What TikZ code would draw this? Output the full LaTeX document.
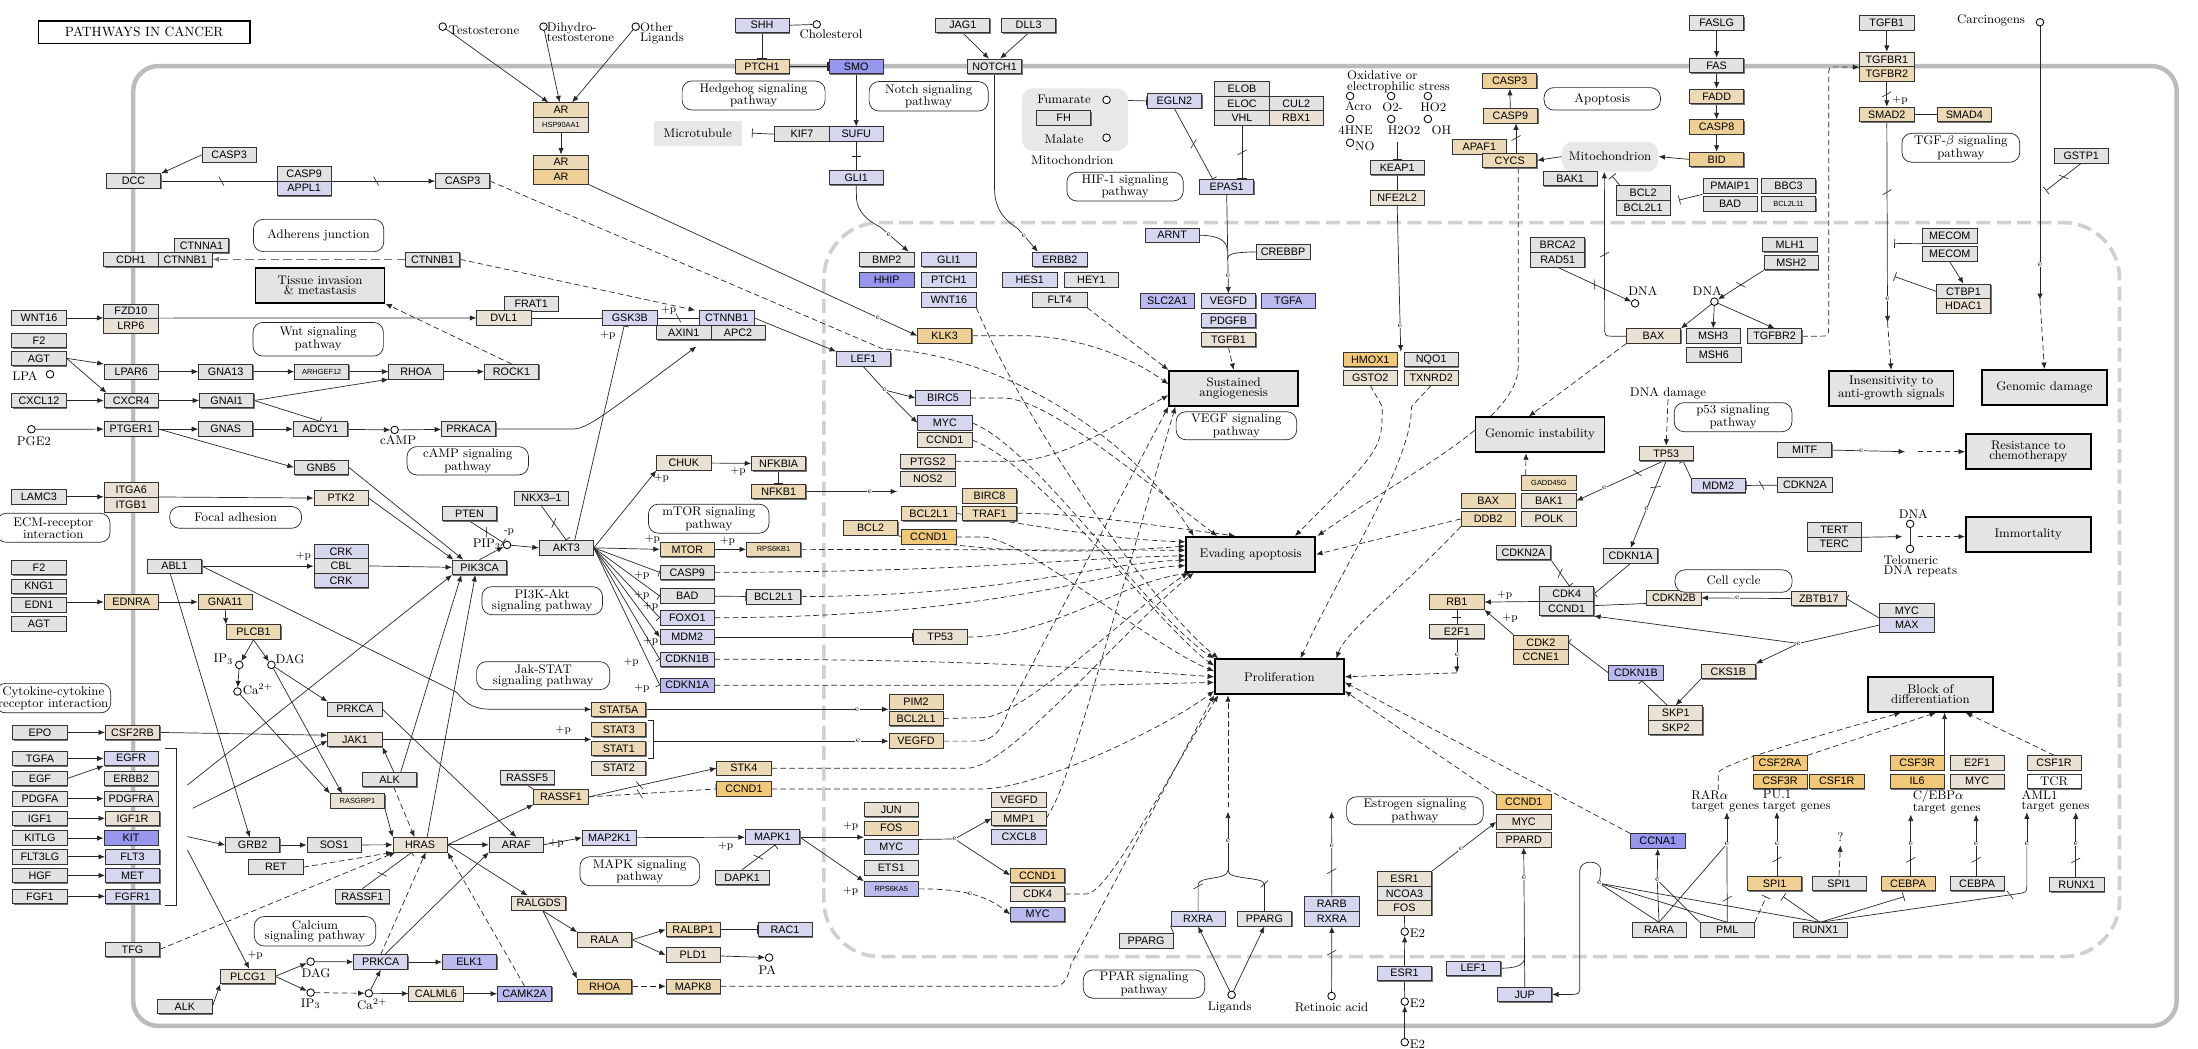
\documentclass[tikz,border=0pt]{standalone}
\usepackage{fontspec}
\newfontfamily\gf{Liberation Sans}
\usetikzlibrary{arrows.meta,calc,decorations.markings,shadows}
\pgfdeclarelayer{back}
\pgfdeclarelayer{edges}
\pgfsetlayers{back,edges,main}
\definecolor{cg}{RGB}{226,226,226}
\definecolor{cb}{RGB}{233,226,212}
\definecolor{ct}{RGB}{236,218,182}
\definecolor{cq}{RGB}{238,208,150}
\definecolor{co}{RGB}{241,200,120}
\definecolor{cl}{RGB}{214,214,238}
\definecolor{cn}{RGB}{186,186,238}
\definecolor{cm}{RGB}{150,150,236}
\definecolor{phg}{RGB}{228,228,228}
\definecolor{memb}{RGB}{188,188,188}
\definecolor{nuc}{RGB}{208,208,208}
\definecolor{reg}{RGB}{232,232,232}
\newcommand\gsz{\gf\fontsize{7.7}{8}\selectfont}
\newcommand\sgz{\fontsize{5.3}{6}\selectfont}
\newcommand\lbl{\fontsize{8.9}{7.4}\selectfont}
\newcommand\efont{\fontsize{5.6}{5.6}\selectfont}
\newcommand\ppfont{\fontsize{7.6}{7.6}\selectfont}
\newcommand\genebox[5]{\node[gene,fill=#2] (#1) at (#3,#4) {#5};}
\begin{document}
\begin{tikzpicture}[x=1pt,y=-1pt,
 gene/.style={draw=black!80,line width=0.55pt,minimum width=38.7pt,minimum height=10.4pt,inner sep=0pt,font=\gsz,drop shadow={shadow xshift=0.7pt,shadow yshift=-0.7pt,fill=black!55,opacity=1}},
 phen/.style={draw=black,line width=1.3pt,fill=phg,minimum width=92pt,minimum height=25pt,align=center,font=\lbl,inner sep=1pt},
 pw/.style={draw=black!85,line width=0.5pt,rounded corners=7pt,fill=white,align=center,font=\lbl,inner sep=1pt},
 txt/.style={font=\lbl,inner sep=0pt,align=center},
 cpd/.style={circle,draw=black,line width=0.6pt,fill=white,inner sep=0pt,minimum size=5.4pt},
 ln/.style={draw=black!85,line width=0.5pt},
 arr/.style={ln,-{Latex[length=4.6pt,width=3.8pt]}},
 inh/.style={ln,-{Bar[width=6.5pt]}},
 dsh/.style={dash pattern=on 4pt off 2.4pt},
 ee/.style={font=\efont,fill=white,inner sep=0.3pt},
 pp/.style={font=\ppfont,inner sep=0pt},
 sl/.style={postaction={decorate,decoration={markings,mark=at position #1 with {\draw[solid,-,line width=0.45pt] (-1.8,-3.2) -- (1.8,3.2);}}}},
 sl/.default=0.5]
\useasboundingbox (0,0) rectangle (1568,747.7);
\begin{pgfonlayer}{back}
\draw[memb,line width=3.2pt,rounded corners=18pt] (95,47.1) rectangle (1552.8,731.9);
\draw[nuc,line width=2.6pt,dash pattern=on 10pt off 4.5pt,rounded corners=40pt] (587.7,158.8) rectangle (1512,682.4);
\end{pgfonlayer}
% regions
\node[fill=reg,rounded corners=8pt,minimum width=75.7pt,minimum height=44.7pt] (fumreg) at (766.85,85.35) {};
\node[fill=reg,rounded corners=8pt,minimum width=68.8pt,minimum height=21.4pt,font=\lbl] (mito) at (1148.6,111.7) {Mitochondrion};
\node[fill=reg,minimum width=63pt,minimum height=18pt,font=\lbl] (micro) at (497.7,95) {Microtubule};
% title
\node[draw,line width=0.9pt,minimum width=151pt,minimum height=16pt,font=\fontsize{9.6}{10}\selectfont] (title) at (102.8,23) {PATHWAYS IN CANCER};
% genes top-left
\genebox{casp3a}{cg}{163.5}{110.5}{CASP3}
\genebox{dcc}{cg}{95.3}{129.2}{DCC}
\genebox{casp9a}{cg}{217}{123.9}{CASP9}
\genebox{appl1}{cl}{217}{134.3}{APPL1}
\genebox{casp3b}{cg}{330}{129.2}{CASP3}
\genebox{ctnna1}{cg}{143.7}{175}{CTNNA1}
\genebox{cdh1}{cg}{93.4}{185}{CDH1}
\genebox{ctnnb1a}{cg}{132.1}{185}{CTNNB1}
\genebox{ctnnb1b}{cg}{308.6}{185}{CTNNB1}
\genebox{wnt16a}{cg}{27.8}{226.8}{WNT16}
\genebox{fzd10}{cg}{93.4}{222}{FZD10}
\genebox{lrp6}{cb}{93.4}{232.4}{LRP6}
\genebox{frat1}{cg}{379}{216.6}{FRAT1}
\genebox{dvl1}{cb}{359.4}{226.8}{DVL1}
\genebox{f2a}{cg}{27.8}{242.8}{F2}
\genebox{agta}{cg}{27.8}{255.6}{AGT}
\genebox{ar1}{ct}{400.2}{78.5}{AR}
\genebox{hsp}{cb}{400.2}{88.9}{\sgz HSP90AA1}
\genebox{ar2}{ct}{400.2}{115.7}{AR}
\genebox{ar3}{cq}{400.2}{126.1}{AR}
% hedgehog notch
\genebox{shh}{cl}{543.6}{18}{SHH}
\genebox{ptch1a}{ct}{543.6}{47.3}{PTCH1}
\genebox{smo}{cm}{610.8}{47.3}{SMO}
\genebox{jag1}{cg}{686.8}{18}{JAG1}
\genebox{dll3}{cg}{733.8}{18}{DLL3}
\genebox{notch1}{cg}{709.5}{47.3}{NOTCH1}
\genebox{kif7}{cg}{572.1}{95.7}{KIF7}
\genebox{sufu}{cl}{610.8}{95.7}{SUFU}
\genebox{gli1a}{cl}{610.8}{126.6}{GLI1}
\genebox{fh}{cg}{758.8}{84.2}{FH}
% HIF
\genebox{egln2}{cl}{837.8}{72}{EGLN2}
\genebox{elob}{cg}{886}{63.4}{ELOB}
\genebox{eloc}{cg}{886}{73.8}{ELOC}
\genebox{vhl}{cg}{886}{84.2}{VHL}
\genebox{cul2}{cg}{924.7}{73.8}{CUL2}
\genebox{rbx1}{cb}{924.7}{84.2}{RBX1}
\genebox{epas1}{cl}{875.1}{133.3}{EPAS1}
\genebox{keap1}{cg}{996.7}{119.5}{KEAP1}
\genebox{nfe2l2}{cb}{996.7}{141.2}{NFE2L2}
% apoptosis
\genebox{casp3c}{cq}{1077}{57.9}{CASP3}
\genebox{casp9b}{ct}{1077.5}{82.5}{CASP9}
\genebox{apaf1}{ct}{1055.3}{104.9}{APAF1}
\genebox{cycs}{ct}{1077}{114.4}{CYCS}
\genebox{bak1a}{cg}{1120.1}{127.4}{BAK1}
\genebox{bcl2a}{cg}{1172.2}{137.7}{BCL2}
\genebox{bcl2l1a}{cg}{1172.2}{148.1}{BCL2L1}
\genebox{faslg}{cg}{1224.6}{16.4}{FASLG}
\genebox{fas}{cg}{1224.6}{46.6}{FAS}
\genebox{fadd}{ct}{1224.6}{68.7}{FADD}
\genebox{casp8}{cq}{1224.6}{90.6}{CASP8}
\genebox{bid}{cq}{1224.6}{113.7}{BID}
\genebox{pmaip1}{cg}{1234.2}{132.6}{PMAIP1}
\genebox{bbc3}{cg}{1275.9}{132.6}{BBC3}
\genebox{bada}{cg}{1234.2}{145.5}{BAD}
\genebox{bcl2l11}{cg}{1275.9}{145.5}{\sgz BCL2L11}
% TGF
\genebox{tgfb1a}{cg}{1346}{16.4}{TGFB1}
\genebox{tgfbr1}{cb}{1346}{42.5}{TGFBR1}
\genebox{tgfbr2a}{ct}{1346}{52.9}{TGFBR2}
\genebox{smad2}{ct}{1346}{81.6}{SMAD2}
\genebox{smad4}{ct}{1401.3}{81.6}{SMAD4}
\genebox{gstp1}{cg}{1484.7}{111}{GSTP1}
\genebox{mecom1}{cg}{1390.9}{168.4}{MECOM}
\genebox{mecom2}{cg}{1390.9}{181.3}{MECOM}
\genebox{ctbp1}{cg}{1400.7}{207.8}{CTBP1}
\genebox{hdac1}{cb}{1400.7}{218.2}{HDAC1}
\genebox{mlh1}{cg}{1276.9}{174.3}{MLH1}
\genebox{msh2}{cg}{1277.9}{187.3}{MSH2}
\genebox{brca2}{cg}{1111.2}{174.8}{BRCA2}
\genebox{rad51}{cg}{1111.2}{185.2}{RAD51}
\genebox{baxa}{cb}{1179.5}{239.8}{BAX}
\genebox{msh3}{cg}{1222.1}{239.8}{MSH3}
\genebox{tgfbr2b}{cg}{1266}{239.8}{TGFBR2}
\genebox{msh6}{cg}{1222.6}{253.2}{MSH6}
% nucleus top
\genebox{bmp2}{cg}{632.6}{185}{BMP2}
\genebox{gli1b}{cl}{676.9}{185}{GLI1}
\genebox{hhip}{cm}{632.6}{199.7}{HHIP}
\genebox{ptch1b}{cl}{676.9}{199.7}{PTCH1}
\genebox{wnt16b}{cl}{676.9}{214.1}{WNT16}
\genebox{erbb2a}{cl}{756}{185}{ERBB2}
\genebox{hes1}{cl}{734.6}{199.7}{HES1}
\genebox{hey1}{cg}{778.5}{199.7}{HEY1}
\genebox{flt4}{cg}{756}{214.1}{FLT4}
\genebox{gsk3b}{cl}{449.3}{226.8}{GSK3B}
\genebox{ctnnb1c}{cl}{518.5}{226.8}{CTNNB1}
\genebox{axin1}{cg}{487.8}{237.2}{AXIN1}
\genebox{apc2}{cg}{526.5}{237.2}{APC2}
\genebox{klk3}{cq}{673.9}{239.5}{KLK3}
\genebox{arnt}{cl}{836.2}{167.8}{ARNT}
\genebox{crebbp}{cg}{915.3}{179.7}{CREBBP}
\genebox{slc2a1}{cn}{832.7}{214.8}{SLC2A1}
\genebox{vegfda}{cl}{876.3}{214.8}{VEGFD}
\genebox{tgfaA}{cn}{919}{214.8}{TGFA}
\genebox{pdgfb}{cl}{876.3}{228.5}{PDGFB}
\genebox{tgfb1b}{cb}{876.3}{242.2}{TGFB1}
% left middle
\genebox{lpar6}{cg}{93.6}{265.1}{LPAR6}
\genebox{gna13}{cg}{161}{265.1}{GNA13}
\genebox{arhgef12}{cg}{229.5}{265.1}{\sgz ARHGEF12}
\genebox{rhoa1}{cg}{296.7}{265.1}{RHOA}
\genebox{rock1}{cg}{364.9}{265.1}{ROCK1}
\genebox{cxcl12}{cg}{27.8}{285.7}{CXCL12}
\genebox{cxcr4}{cg}{93.6}{285.7}{CXCR4}
\genebox{gnai1}{cg}{161.7}{285.7}{GNAI1}
\genebox{ptger1}{cg}{93.6}{306.1}{PTGER1}
\genebox{gnas}{cg}{161}{306.1}{GNAS}
\genebox{adcy1}{cg}{228.6}{306.1}{ADCY1}
\genebox{prkaca}{cg}{334.3}{306.1}{PRKACA}
\genebox{gnb5}{cg}{229.2}{333.4}{GNB5}
\genebox{lamc3}{cg}{27.8}{354.4}{LAMC3}
\genebox{itga6}{cb}{93.6}{349.6}{ITGA6}
\genebox{itgb1}{cb}{93.6}{360}{ITGB1}
\genebox{ptk2}{cb}{243.3}{355.3}{PTK2}
\genebox{nkx31}{cg}{386.2}{355.4}{NKX3–1}
\genebox{pten}{cg}{334.9}{366.3}{PTEN}
\genebox{akt3}{cg}{404}{390.8}{AKT3}
\genebox{pik3ca}{cg}{342.1}{404.7}{PIK3CA}
\genebox{abl1}{cg}{124.5}{403.9}{ABL1}
\genebox{crk1}{cl}{243.3}{393.3}{CRK}
\genebox{cbl}{cg}{243.3}{403.7}{CBL}
\genebox{crk2}{cl}{243.3}{414.1}{CRK}
\genebox{f2b}{cg}{27.8}{404.9}{F2}
\genebox{kng1}{cg}{27.8}{418.2}{KNG1}
\genebox{edn1}{cg}{27.8}{431.6}{EDN1}
\genebox{agtb}{cg}{27.8}{445.1}{AGT}
\genebox{ednra}{ct}{93.6}{429.4}{EDNRA}
\genebox{gna11}{ct}{160.7}{429.4}{GNA11}
\genebox{plcb1}{ct}{180.8}{450.9}{PLCB1}
% lower left
\genebox{epo}{cg}{28.5}{522.5}{EPO}
\genebox{csf2rb}{cb}{94.5}{522.5}{CSF2RB}
\genebox{tgfaB}{cg}{28.5}{541.1}{TGFA}
\genebox{egf}{cg}{28.5}{555.3}{EGF}
\genebox{egfr}{cl}{93.5}{540.9}{EGFR}
\genebox{erbb2b}{cg}{93.5}{555.3}{ERBB2}
\genebox{pdgfa}{cg}{28.5}{569.7}{PDGFA}
\genebox{pdgfra}{cg}{93.5}{569.7}{PDGFRA}
\genebox{igf1}{cg}{28.5}{583.8}{IGF1}
\genebox{igf1r}{cb}{94.5}{583.8}{IGF1R}
\genebox{kitlg}{cg}{28.5}{597.9}{KITLG}
\genebox{kit}{cm}{93.5}{597.9}{KIT}
\genebox{flt3lg}{cg}{28.5}{611.2}{FLT3LG}
\genebox{flt3}{cl}{94.5}{611.2}{FLT3}
\genebox{hgf}{cg}{28.5}{624.5}{HGF}
\genebox{met}{cl}{94.5}{624.5}{MET}
\genebox{fgf1}{cg}{28.5}{639.4}{FGF1}
\genebox{fgfr1}{cl}{94.5}{639.4}{FGFR1}
\genebox{tfg}{cg}{94.5}{677.2}{TFG}
\genebox{prkca1}{cg}{253.2}{505.9}{PRKCA}
\genebox{jak1}{cb}{253.2}{527.5}{JAK1}
\genebox{alk1}{cg}{277.9}{556.1}{ALK}
\genebox{rasgrp1}{cb}{255}{571.5}{\sgz RASGRP1}
\genebox{rassf5}{cg}{376}{554.6}{RASSF5}
\genebox{rassf1a}{ct}{400.2}{568.5}{RASSF1}
\genebox{grb2}{cg}{180.2}{602.8}{GRB2}
\genebox{sos1}{cg}{238.4}{602.8}{SOS1}
\genebox{hras}{cb}{299.7}{602.6}{HRAS}
\genebox{araf}{cg}{368.3}{602.6}{ARAF}
\genebox{ret}{cg}{196.8}{618.6}{RET}
\genebox{rassf1b}{cg}{258.5}{639.4}{RASSF1}
\genebox{ralgds}{cb}{384.3}{644.3}{RALGDS}
\genebox{plcg1}{cb}{176.8}{696.5}{PLCG1}
\genebox{prkca2}{cl}{271.6}{686.3}{PRKCA}
\genebox{elk1}{cn}{334.9}{686.3}{ELK1}
\genebox{calml6}{cb}{311}{708.9}{CALML6}
\genebox{camk2a}{cn}{374.2}{708.9}{CAMK2A}
\genebox{alk2}{cg}{131.9}{717.9}{ALK}
% middle
\genebox{stat5a}{ct}{441.4}{506}{STAT5A}
\genebox{stat3}{ct}{441.4}{520.4}{STAT3}
\genebox{stat1}{ct}{441.4}{533.9}{STAT1}
\genebox{stat2}{cb}{441.4}{548}{STAT2}
\genebox{pim2}{ct}{653.5}{500.5}{PIM2}
\genebox{bcl2l1c}{ct}{653.5}{512.5}{BCL2L1}
\genebox{vegfdb}{ct}{653.5}{528.7}{VEGFD}
\genebox{stk4}{ct}{530.7}{548}{STK4}
\genebox{ccnd1a}{co}{530.7}{562.8}{CCND1}
\genebox{jun}{cb}{635.8}{577.4}{JUN}
\genebox{fos}{ct}{635.8}{590.8}{FOS}
\genebox{myca}{cl}{635.8}{604.3}{MYC}
\genebox{ets1}{cg}{635.8}{619.2}{ETS1}
\genebox{rps6ka5}{cn}{635.8}{634.1}{\sgz RPS6KA5}
\genebox{vegfdc}{cb}{726.9}{570.5}{VEGFD}
\genebox{mmp1}{cb}{726.9}{583.8}{MMP1}
\genebox{cxcl8}{cl}{726.9}{596.9}{CXCL8}
\genebox{ccnd1b}{cq}{740.2}{624.4}{CCND1}
\genebox{cdk4a}{cb}{740.2}{637.7}{CDK4}
\genebox{mycb}{cn}{740.2}{652.2}{MYC}
\genebox{map2k1}{cl}{434.7}{597.6}{MAP2K1}
\genebox{mapk1}{cl}{551}{597.2}{MAPK1}
\genebox{dapk1}{cg}{529.4}{625.9}{DAPK1}
\genebox{rala}{cb}{431.3}{670.4}{RALA}
\genebox{ralbp1}{ct}{494.5}{663.1}{RALBP1}
\genebox{rac1}{cl}{560}{663.1}{RAC1}
\genebox{pld1}{cb}{494.5}{681.3}{PLD1}
\genebox{rhoa2}{cq}{431.3}{703.6}{RHOA}
\genebox{mapk8}{ct}{494.5}{703.6}{MAPK8}
% akt targets
\genebox{chuk}{cb}{487.8}{330.2}{CHUK}
\genebox{nfkbia}{cb}{555.5}{330.7}{NFKBIA}
\genebox{nfkb1}{ct}{555.5}{350.6}{NFKB1}
\genebox{mtor}{ct}{490.3}{391.9}{MTOR}
\genebox{rps6kb1}{ct}{551.8}{391.9}{\sgz RPS6KB1}
\genebox{casp9c}{cg}{490.3}{408.3}{CASP9}
\genebox{badb}{cg}{490.3}{425.2}{BAD}
\genebox{bcl2l1b}{cg}{551.8}{425.6}{BCL2L1}
\genebox{foxo1}{cl}{490.3}{440.7}{FOXO1}
\genebox{mdm2a}{cl}{490.3}{454.5}{MDM2}
\genebox{tp53a}{cb}{670.8}{454.5}{TP53}
\genebox{cdkn1bA}{cl}{490.3}{470.3}{CDKN1B}
\genebox{cdkn1aA}{cn}{490.3}{488.8}{CDKN1A}
% nucleus middle
\genebox{lef1a}{cl}{616}{256.2}{LEF1}
\genebox{birc5}{cl}{672.7}{283.9}{BIRC5}
\genebox{mycc}{cl}{674}{301.7}{MYC}
\genebox{ccnd1c}{cb}{674}{314}{CCND1}
\genebox{ptgs2}{cb}{661.9}{329.1}{PTGS2}
\genebox{nos2}{cb}{661.9}{341.6}{NOS2}
\genebox{birc8}{ct}{705.9}{353.8}{BIRC8}
\genebox{bcl2l1d}{ct}{662.6}{366.2}{BCL2L1}
\genebox{traf1}{ct}{705.9}{366.2}{TRAF1}
\genebox{bcl2b}{ct}{621}{376.7}{BCL2}
\genebox{ccnd1d}{co}{662.6}{383.1}{CCND1}
% right middle
\genebox{hmox1}{co}{977.5}{256.3}{HMOX1}
\genebox{nqo1}{cg}{1021}{256.3}{NQO1}
\genebox{gsto2}{cb}{977.5}{269.4}{GSTO2}
\genebox{txnrd2}{cb}{1021}{269.4}{TXNRD2}
\genebox{gadd45g}{ct}{1105}{344.3}{\sgz GADD45G}
\genebox{baxb}{ct}{1061.7}{357.2}{BAX}
\genebox{bak1b}{cb}{1105}{357.2}{BAK1}
\genebox{ddb2}{ct}{1061.7}{370.2}{DDB2}
\genebox{polk}{cb}{1105}{370.2}{POLK}
\genebox{cdkn2aA}{cg}{1086.8}{394}{CDKN2A}
\genebox{cdkn1aB}{cg}{1163.2}{396.4}{CDKN1A}
\genebox{cdk4b}{cg}{1117.6}{423.6}{CDK4}
\genebox{ccnd1e}{cg}{1117.6}{434}{CCND1}
\genebox{rb1}{ct}{1039.3}{429.5}{RB1}
\genebox{e2f1a}{cb}{1039.3}{450.5}{E2F1}
\genebox{cdk2}{ct}{1099.2}{458.2}{CDK2}
\genebox{ccne1}{ct}{1099.2}{468.6}{CCNE1}
\genebox{cdkn1bB}{cn}{1167}{480}{CDKN1B}
\genebox{tp53b}{cb}{1188.6}{323.4}{TP53}
\genebox{mitf}{cg}{1287.4}{321.1}{MITF}
\genebox{mdm2b}{cl}{1225.8}{346.3}{MDM2}
\genebox{cdkn2aB}{cg}{1287.6}{346.1}{CDKN2A}
\genebox{tert}{cg}{1308.5}{377.8}{TERT}
\genebox{terc}{cg}{1308.5}{388.2}{TERC}
\genebox{cdkn2b}{cb}{1194.1}{426.5}{CDKN2B}
\genebox{zbtb17}{cb}{1297.5}{427}{ZBTB17}
\genebox{mycd}{cg}{1360.3}{435.5}{MYC}
\genebox{max}{cl}{1360.3}{445.9}{MAX}
\genebox{cks1b}{cb}{1233}{478.9}{CKS1B}
\genebox{skp1}{cb}{1195.4}{508.6}{SKP1}
\genebox{skp2}{cb}{1195.4}{519}{SKP2}
% bottom right
\genebox{pparga}{cg}{817.6}{671.3}{PPARG}
\genebox{rxra1}{cl}{854.7}{655.4}{RXRA}
\genebox{ppargb}{cg}{902}{655.4}{PPARG}
\genebox{rarb}{cl}{950.1}{645}{RARB}
\genebox{rxra2}{cl}{950.1}{655.4}{RXRA}
\genebox{esr1a}{cb}{1001.9}{626.9}{ESR1}
\genebox{ncoa3}{cg}{1001.9}{637.3}{NCOA3}
\genebox{fosb}{cb}{1001.9}{647.7}{FOS}
\genebox{esr1b}{cl}{1001.9}{694.3}{ESR1}
\genebox{ccnd1f}{co}{1087}{572.2}{CCND1}
\genebox{mycf}{cb}{1087}{586.3}{MYC}
\genebox{ppard}{cb}{1087}{599.1}{PPARD}
\genebox{lef1b}{cl}{1051.1}{690.7}{LEF1}
\genebox{jup}{cl}{1087.7}{709.4}{JUP}
\genebox{ccna1}{cm}{1182.6}{600}{CCNA1}
\genebox{csf2ra}{co}{1269.8}{544.3}{CSF2RA}
\genebox{csf3ra}{co}{1269.8}{557.3}{CSF3R}
\genebox{csf1ra}{co}{1310.3}{557.3}{CSF1R}
\genebox{csf3rb}{co}{1367.6}{544.3}{CSF3R}
\genebox{e2f1b}{cb}{1410.4}{544.3}{E2F1}
\genebox{il6}{co}{1367.6}{557.3}{IL6}
\genebox{myce}{cb}{1410.4}{557.3}{MYC}
\genebox{csf1rb}{cb}{1465.3}{544.3}{CSF1R}
\node[gene,fill=white,font=\lbl] (tcr) at (1465.3,557.3) {TCR};
\genebox{spi1a}{cq}{1266}{630.2}{SPI1}
\genebox{spi1b}{cg}{1311.9}{630.2}{SPI1}
\genebox{cebpa1}{cq}{1361.2}{630.2}{CEBPA}
\genebox{cebpa2}{cg}{1410.4}{630.2}{CEBPA}
\genebox{runx1b}{cg}{1481.5}{631}{RUNX1}
\genebox{rara}{cg}{1183.5}{663.4}{RARA}
\genebox{pml}{cg}{1232.2}{663.4}{PML}
\genebox{runx1a}{cg}{1298.4}{663.4}{RUNX1}
% phenotypes
\node[phen] (tissue) at (228.3,203.5) {Tissue invasion\\\& metastasis};
\node[phen] (angio) at (880.1,277) {Sustained\\angiogenesis};
\node[phen] (evade) at (892.2,395.5) {Evading apoptosis};
\node[phen] (prolif) at (912.7,482.8) {Proliferation};
\node[phen] (geninst) at (1098.6,310.2) {Genomic instability};
\node[phen,minimum width=89pt] (insens) at (1349.1,277) {Insensitivity to\\anti-growth signals};
\node[phen,minimum width=89pt] (gendam) at (1458.4,276.4) {Genomic damage};
\node[phen,minimum width=89pt] (resist) at (1446.9,322.3) {Resistance to\\chemotherapy};
\node[phen,minimum width=89pt] (immort) at (1446.9,381.1) {Immortality};
\node[phen,minimum width=89pt] (block) at (1377.1,495.2) {Block of\\differentiation};
% pathway labels
\node[pw,minimum width=93pt,minimum height=23pt] (pAdh) at (227.3,168) {Adherens junction};
\node[pw,minimum width=93pt,minimum height=24pt] (pWnt) at (227,242) {Wnt signaling\\pathway};
\node[pw,minimum width=102pt,minimum height=20.7pt] (pHh) at (537.6,68.1) {Hedgehog signaling\\pathway};
\node[pw,minimum width=85pt,minimum height=21pt] (pNotch) at (662.5,68.7) {Notch signaling\\pathway};
\node[pw,minimum width=83pt,minimum height=20.5pt] (pHif) at (802.6,133.1) {HIF-1 signaling\\pathway};
\node[pw,minimum width=83pt,minimum height=16pt] (pApo) at (1143,70.5) {Apoptosis};
\node[pw,minimum width=84pt,minimum height=20.7pt] (pTgf) at (1398.8,105.4) {TGF-$\beta$ signaling\\pathway};
\node[pw,minimum width=86.6pt,minimum height=20.2pt] (pCamp) at (333.7,328.7) {cAMP signaling\\pathway};
\node[pw,minimum width=94pt,minimum height=15.5pt] (pFoc) at (168.1,369.1) {Focal adhesion};
\node[pw,minimum width=81pt,minimum height=20.7pt] (pEcm) at (38,376.5) {ECM-receptor\\interaction};
\node[pw,minimum width=86pt,minimum height=20pt] (pPi3k) at (386.8,428.5) {PI3K-Akt\\signaling pathway};
\node[pw,minimum width=95pt,minimum height=20pt] (pJak) at (387.5,482) {Jak-STAT\\signaling pathway};
\node[pw,minimum width=82pt,minimum height=21pt] (pCyt) at (38,498) {Cytokine-cytokine\\receptor interaction};
\node[pw,minimum width=86pt,minimum height=20.7pt] (pMtor) at (505.6,370) {mTOR signaling\\pathway};
\node[pw,minimum width=86pt,minimum height=20pt] (pVegf) at (882,303.7) {VEGF signaling\\pathway};
\node[pw,minimum width=84pt,minimum height=20.7pt] (pP53) at (1236.3,297.6) {p53 signaling\\pathway};
\node[pw,minimum width=83.5pt,minimum height=16pt] (pCc) at (1236.7,414.5) {Cell cycle};
\node[pw,minimum width=85.4pt,minimum height=20.7pt] (pMapk) at (456.4,621.5) {MAPK signaling\\pathway};
\node[pw,minimum width=86.6pt,minimum height=21pt] (pCa) at (224.7,664.3) {Calcium\\signaling pathway};
\node[pw,minimum width=86.6pt,minimum height=20.2pt] (pPpar) at (816.1,702) {PPAR signaling\\pathway};
\node[pw,minimum width=97.5pt,minimum height=20pt] (pEst) at (1009.4,578.4) {Estrogen signaling\\pathway};
% compounds and texts
\node[cpd] (cTes) at (315.8,19) {};
\node[txt,anchor=west] at (320,21.5) {Testosterone};
\node[cpd] (cDih) at (387.7,19) {};
\node[txt,anchor=north west,align=left] at (390,15.8) {Dihydro-\\testosterone};
\node[cpd] (cOth) at (453.5,19) {};
\node[txt,anchor=north west,align=left] at (456.5,15.8) {Other\\Ligands};
\node[cpd] (cChol) at (582.6,17.4) {};
\node[txt] at (592.8,24.5) {Cholesterol};
\node[txt] at (759.1,70.9) {Fumarate};
\node[txt] at (759.1,99.4) {Malate};
\node[cpd] (cFum) at (789.4,71.3) {};
\node[cpd] (cMal) at (789.4,98.2) {};
\node[txt] at (765,114.3) {Mitochondrion};
\node[txt,anchor=west,align=left] at (960.8,58.3) {Oxidative or\\electrophilic stress};
\node[cpd] (ox1) at (963.1,68.5) {};
\node[cpd] (ox2) at (992.4,68.5) {};
\node[cpd] (ox3) at (1018.6,68.5) {};
\node[txt] at (969,76) {Acro};
\node[txt] at (993.5,76.6) {O2-};
\node[txt] at (1022.5,76.6) {HO2};
\node[cpd] (ox4) at (963.1,84.9) {};
\node[cpd] (ox5) at (992.4,84.9) {};
\node[cpd] (ox6) at (1018.6,84.9) {};
\node[txt] at (967,92.7) {4HNE};
\node[txt] at (1001.6,92.7) {H2O2};
\node[txt] at (1028.3,92.7) {OH};
\node[cpd] (ox7) at (963.1,101.8) {};
\node[txt,anchor=west] at (966.5,104) {NO};
\coordinate (oxs) at (996.7,101.5);
\node[txt] at (1420.4,14.7) {Carcinogens};
\node[cpd] (cCarc) at (1455.3,15.9) {};
\node[cpd] (cDNA1) at (1166.4,216.4) {};
\node[txt] at (1172,207.3) {DNA};
\node[cpd] (cDNA2) at (1223,215.2) {};
\node[txt] at (1217.9,207.3) {DNA};
\node[txt] (dnadmg) at (1189.9,280.5) {DNA damage};
\node[cpd] (cT1) at (1362.6,373.7) {};
\node[cpd] (cT2) at (1362.6,391.6) {};
\node[txt] at (1364.9,366.4) {DNA};
\node[txt,anchor=north west,align=left] at (1343.5,396.2) {Telomeric\\DNA repeats};
\node[txt] at (17.8,268.2) {LPA};
\node[cpd] (cLPA) at (35.7,267) {};
\node[cpd] (cPGE2) at (22.4,306.2) {};
\node[txt] at (24.2,315) {PGE2};
\node[cpd] (cAMP) at (281.5,306.7) {};
\node[txt] at (284,314) {cAMP};
\node[cpd] (cPIP3) at (361.7,388.7) {};
\node[txt,anchor=east] at (357.5,388.2) {PIP\textsubscript{3}};
\node[pp] at (363,379.5) {-p};
\node[cpd] (cIP3) at (170.7,474.3) {};
\node[txt,anchor=east] at (166.5,470.5) {IP\textsubscript{3}};
\node[cpd] (cDAG) at (193.6,474.3) {};
\node[txt,anchor=west] at (196.5,470) {DAG};
\node[cpd] (cCa1) at (169.4,493.3) {};
\node[txt,anchor=west] at (173,491.5) {Ca\textsuperscript{2+}};
\node[cpd] (cDAG2) at (221.6,686) {};
\node[txt] at (225.4,694.5) {DAG};
\node[cpd] (cIP3b) at (221.6,708.1) {};
\node[txt] at (221.6,716) {IP\textsubscript{3}};
\node[cpd] (cCa2) at (263.1,708.6) {};
\node[txt] at (265.5,716.5) {Ca\textsuperscript{2+}};
\node[cpd] (cPA) at (548.7,683.1) {};
\node[txt] at (547.4,692) {PA};
\node[cpd] (cLig) at (878.6,709.7) {};
\node[txt] at (877.3,718.5) {Ligands};
\node[cpd] (cRet) at (949.9,710.5) {};
\node[txt] at (949.9,718.5) {Retinoic acid};
\node[cpd] (cE2a) at (1002.1,664.6) {};
\node[txt,anchor=west] at (1005.5,665.8) {E2};
\node[cpd] (cE2b) at (1002.1,714.5) {};
\node[txt,anchor=west] at (1005.5,715.7) {E2};
\node[cpd] (cE2c) at (1002.1,743.5) {};
\node[txt,anchor=west] at (1005.5,744.7) {E2};
\node[txt,anchor=north west,align=left] (rart) at (1206.4,563.5) {RAR$\alpha$\\target genes};
\node[txt,anchor=north west,align=left] (put) at (1257.4,563.5) {PU.1\\target genes};
\node[txt,anchor=north west,align=left] (cebt) at (1364.4,563.5) {C/EBP$\alpha$\\target genes};
\node[txt,anchor=north west,align=left] (amlt) at (1442,563.5) {AML1\\target genes};
\node[txt] at (1312.9,597) {?};
% +p labels
\foreach \x/\y in {477/221.6,433.6/239,216.5/396.6,471.8/341.2,465.4/384.7,457.8/410.1,457.8/424.4,464.2/432.7,464.2/457.7,450.2/472.6,457.8/491,526.6/336.4,518.9/386.3,401.8/521.2,396.7/601.6,517.7/604,606.8/589.7,606.8/636,182/681.2,1355.4/71.3,1073.4/424.4,1077.2/441}
 \node[pp] at (\x,\y) {+p};
% edges
\begin{pgfonlayer}{edges}
\draw[arr] (cTes) -- ($(ar1.north)+(-9,0)$);
\draw[arr] (cDih) -- ($(ar1.north)+(-1,0)$);
\draw[arr] (cOth) -- ($(ar1.north)+(8,0)$);
\draw[arr] (hsp) -- (ar2);
\draw[arr] (ar3.south east) -- node[ee,pos=0.88]{e} (klk3.west);
\draw[arr] (casp3a.west) -- (dcc.north east);
\draw[arr,sl=0.22,sl=0.785] (dcc.east) -- (casp3b.west);
\draw[arr,dsh] (casp3b.east) -- (630,249) .. controls (700,251) and (800,300) .. ($(evade.north west)+(6,0)$);
\draw[arr,draw=black!55,line width=0.9pt,dash pattern=on 6pt off 3pt] (ctnnb1b.west) -- (ctnnb1a.east);
\draw[arr,dsh] (ctnnb1b.east) -- ($(ctnnb1c.north west)+(-3,0)$);
\draw[arr] (wnt16a.east) -- (wnt16a.east -| fzd10.west);
\draw[arr] (lrp6.north east) -- (dvl1.west);
\draw[inh] (dvl1.east) -- (gsk3b.west);
\draw[inh,sl] (gsk3b.east) -- (ctnnb1c.west);
\draw[inh] ($(akt3.north)+(6,0)$) -- ($(gsk3b.south)+(-4,0)$);
\draw[arr,dsh] (rock1.north) -- (tissue.south east);
\draw[arr] (prkaca.east) -- (405,306.1) .. controls (418,306.1) .. ($(axin1.south)+(9,4.5)$);
\draw[arr] (agta.east) -- (lpar6.north west);
\draw[arr] (agta.east) -- ($(cxcr4.north west)+(2,0)$);
\draw[arr] (lpar6) -- (gna13);
\draw[arr] (gna13) -- (arhgef12);
\draw[arr] (arhgef12) -- (rhoa1);
\draw[arr] (rhoa1) -- (rock1);
\draw[arr] (cxcl12) -- (cxcr4);
\draw[arr] (cxcr4) -- (gnai1);
\draw[arr] (gnai1.east) -- (rhoa1.south west);
\draw[inh] (gnai1.east) -- (adcy1.north);
\draw[arr] (cPGE2) -- (ptger1);
\draw[arr] (ptger1) -- (gnas);
\draw[arr] (gnas) -- (adcy1);
\draw[arr] (adcy1) -- (cAMP);
\draw[arr] (cAMP) -- (prkaca);
\draw[arr] (ptger1.east) -- (gnb5.west);
\draw[arr] (gnb5.east) -- ($(pik3ca.north west)+(8,0)$);
\draw[arr] (lamc3.east) -- (lamc3.east -| itga6.west);
\draw[arr] (itgb1.north east) -- (ptk2.west);
\draw[arr] (ptk2.east) -- ($(pik3ca.north west)+(1,0)$);
\draw[inh,sl] (pten.south) -- (cPIP3);
\draw[arr] (pik3ca.north) -- (cPIP3);
\draw[arr] (cPIP3) -- (akt3.west);
\draw[inh,sl] (nkx31.south) -- (akt3.north);
\draw[arr] (abl1.east) -- (abl1.east -| cbl.west);
\draw[arr] (cbl.east) -- (pik3ca.west);
\draw[arr] (abl1.east) -- (326,494) .. controls (334,504) and (340,506) .. (352,506) -- (stat5a.west);
\draw[arr] ($(abl1.south)+(-3,0)$) -- ($(grb2.north)+(-2,0)$);
\draw[arr] (edn1.east |- ednra) -- (ednra.west);
\draw[arr] (ednra) -- (gna11);
\draw[arr] (gna11.south) -- (plcb1.north west);
\draw[arr] (plcb1.south) -- (cIP3);
\draw[arr] (plcb1.south) -- (cDAG);
\draw[arr] (cIP3) -- (cCa1);
\draw[arr] (cDAG) -- (prkca1.north west);
\draw[arr] (cDAG) -- ($(rasgrp1.north)+(-11,0)$);
\draw[arr] (cCa1) -- (rasgrp1.north west);
\draw[arr] (prkca1.east) -- (araf.north);
\draw[arr] (epo) -- (csf2rb);
\draw[arr] (csf2rb.east) -- ($(jak1.west)+(0,-3)$);
\draw[arr] (tgfaB) -- (tgfaB -| egfr.west);
\draw[arr] (egf.east) -- (egfr.south west);
\draw[arr] (pdgfa) -- (pdgfra);
\draw[arr] (igf1) -- (igf1r);
\draw[arr] (kitlg) -- (kit);
\draw[arr] (flt3lg) -- (flt3);
\draw[arr] (hgf) -- (met);
\draw[arr] (fgf1) -- (fgfr1);
\coordinate (brkT) at (118,533.8);
\coordinate (brkB) at (118,645.5);
\draw[ln] (brkT) -- (126,533.8) -- (126,645.5) -- (brkB);
\coordinate (b1) at (133.7,560);
\coordinate (b2) at (137.5,576.6);
\coordinate (b3) at (133.7,596.8);
\coordinate (b4) at (133.7,606.3);
\draw[arr] (b1) -- (pik3ca.south west);
\draw[arr] (b2) -- ($(jak1.west)+(0,1)$);
\draw[arr] (b3) -- (grb2.west);
\draw[arr] (b4) -- ($(plcg1.north)+(1,0)$);
\draw[arr] (grb2) -- (sos1);
\draw[arr] (sos1) -- (hras);
\draw[arr,dsh] (ret.east) -- (hras.south west);
\draw[arr,dsh] (tfg.east) -- ($(hras.south west)+(2,0)$);
\draw[inh,sl=0.4] (rassf1b.north) -- ($(hras.south)+(-6,0)$);
\draw[arr] (rasgrp1.south east) -- (hras.north west);
\draw[arr] ($(alk1.north)+(3,0)$) -- (jak1.south east);
\draw[arr] ($(alk1.north)+(8,0)$) -- ($(pik3ca.south)+(-13,0)$);
\draw[arr,dsh] ($(alk1.south)+(3,0)$) -- ($(hras.north)+(-4,0)$);
\draw[arr] ($(hras.north)+(5,0)$) -- ($(pik3ca.south)+(-3,0)$);
\draw[arr] (hras.east) -- (araf.west);
\draw[arr] (hras.east) -- (rassf1a.south west);
\draw[arr] (hras.east) -- ($(ralgds.north)+(-8,0)$);
\draw[ln] (rassf5.south) -- (rassf1a.north west);
\draw[arr] (araf.east) -- (map2k1.west);
\draw[arr] (map2k1) -- (mapk1);
\draw[arr] (mapk1.east) -- (mapk1.east -| fos.west);
\draw[arr] (mapk1.east) -- (rps6ka5.north west);
\draw[inh,sl] (dapk1.north) -- ($(mapk1.south)+(2,0)$);
\coordinate (ejun) at (681,598.5);
\draw[ln] (myca.north east) -- (ejun);
\draw[arr] (ejun) -- (mmp1.west);
\draw[arr] (ejun) -- (ccnd1b.west);
\node[ee] at (ejun) {e};
\draw[arr,dsh] (rps6ka5.east) .. controls (690,634) and (705,640) .. node[ee,pos=0.45]{e} (mycb.west);
\draw[arr] (jak1.east) -- (jak1.east -| stat3.west);
\draw[arr] (stat5a.east) -- node[ee,pos=0.87]{e} (stat5a.east -| pim2.west);
\coordinate (sbT) at (462,513.6);
\coordinate (sbB) at (462,541);
\draw[ln] (sbT) -- (466.2,513.6) -- (466.2,541) -- (sbB);
\coordinate (stbr) at (466.2,528.7);
\draw[arr] (stbr) -- node[ee,pos=0.87]{e} (vegfdb.west);
\draw[arr,sl=0.4] (rassf1a.east) -- (stk4.west);
\draw[inh,dsh,sl=0.4] (rassf1a.east) -- (ccnd1a.west);
\draw[arr] ($(ralgds.south)+(3,0)$) -- (rala.north west);
\draw[arr] ($(ralgds.south)+(3,0)$) -- (rhoa2.north west);
\draw[arr] (rala.east) -- (ralbp1.west);
\draw[arr] (rala.east) -- (pld1.west);
\draw[inh] (ralbp1) -- (rac1);
\draw[arr] (pld1) -- (cPA);
\draw[arr,dsh] (rhoa2) -- (mapk8);
\draw[arr,dsh] (mapk8.east) -- (752,703.6) .. controls (760,703.6) and (762,696) .. (764,688) -- (prolif.south west);
\draw[arr] (plcg1.east) -- (cDAG2);
\draw[arr] (plcg1.east) -- (cIP3b);
\draw[arr,dsh] (cIP3b) -- (cCa2);
\draw[arr] (cCa2) -- (calml6);
\draw[arr] (calml6) -- (camk2a);
\draw[arr] (cDAG2) -- (prkca2);
\draw[arr] (cCa2) -- (prkca2.south);
\draw[arr] (prkca2) -- (elk1);
\draw[arr,dsh] (prkca2.north) -- ($(hras.south)+(4,0)$);
\draw[arr] ($(prkca2.north)+(3,0)$) -- (araf.south west);
\draw[arr,dsh] (camk2a.north) -- (hras.south east);
\draw[arr] (alk2.east) -- (plcg1.south west);
\draw[arr] (akt3.east) -- (chuk.south west);
\draw[arr] (akt3.east) -- (mtor.west);
\draw[inh] (akt3.east) -- (casp9c.west);
\draw[inh] (akt3.east) -- (badb.west);
\draw[inh] (akt3.east) -- (foxo1.west);
\draw[arr] (akt3.east) -- (mdm2a.west);
\draw[inh] (akt3.east) -- (cdkn1bA.west);
\draw[inh] (akt3.east) -- (cdkn1aA.west);
\draw[arr] (chuk) -- (nfkbia);
\draw[inh] (nfkbia) -- (nfkb1);
\coordinate (nfkt) at (640,350.6);
\draw[arr] (nfkb1.east) -- node[ee,pos=0.7]{e} (nfkt);
\draw[arr] (mtor) -- (rps6kb1);
\draw[inh] (badb) -- (bcl2l1b);
\draw[inh] (mdm2a) -- (tp53a);
\draw[ln] (shh.east) -- (cChol);
\draw[inh] (shh) -- (ptch1a);
\draw[inh,line width=0.9pt] (ptch1a) -- (smo);
\draw[arr] (smo) -- (sufu);
\draw[inh] (sufu.south) -- ($(sufu.south)+(0,10.5)$);
\draw[ln] (sufu.south) -- (gli1a.north);
\draw[inh] (kif7.west) -- ($(micro.east)+(7,0)$);
\draw[arr] (jag1.south) -- ($(notch1.north)+(-4,0)$);
\draw[arr] (dll3.south) -- ($(notch1.north)+(4,0)$);
\draw[arr] (gli1a.south) -- (611,142) .. controls (612,152) and (620,158) .. (628,162) -- node[ee,pos=0.3]{e} ($(bmp2.north east)+(-4,0)$);
\draw[arr] (notch1.south) -- (709.5,135) .. controls (709.5,150) and (718,158) .. (726,163) -- node[ee,pos=0.3]{e} ($(erbb2a.north west)+(4,0)$);
\draw[arr] (ctnnb1c.east) -- (lef1a.north west);
\coordinate (elef) at (631,278.2);
\draw[ln] (lef1a.south) -- (elef);
\draw[arr] (elef) -- (birc5.west);
\draw[arr] (elef) -- (mycc.west);
\node[ee] at (elef) {e};
\draw[arr,sl] (cFum) -- (cMal);
\draw[inh] (cFum) -- (egln2.west);
\draw[inh,sl] (egln2.south) -- ($(epas1.north)+(-10,0)$);
\draw[inh,sl] (vhl.south) -- (vhl.south |- epas1.north);
\draw[arr] (epas1.south) -- node[ee,pos=0.82]{e} (vegfda.north);
\draw[ln] (arnt.east) .. controls (870,168) and (875.5,172) .. (875.5,179);
\draw[ln] (crebbp.west) .. controls (880,180) and (875.5,181) .. (875.5,185);
\draw[arr,dsh] (tgfb1b.south) -- (angio.north);
\draw[inh] (oxs) -- (keap1.north);
\draw[inh] (keap1) -- (nfe2l2);
\draw[arr] (nfe2l2.south) -- node[ee,pos=0.82]{e} ($(hmox1.north east)!0.5!(nqo1.north west)$);
\draw[arr] (faslg) -- (fas);
\draw[arr] (fas) -- (fadd);
\draw[arr] (fadd) -- (casp8);
\draw[arr] (casp8) -- (bid);
\draw[arr] (bid.west) -- (mito.east);
\draw[arr] (mito.west) -- (cycs.east);
\draw[arr,sl] ($(cycs.north)+(4.5,0)$) -- ($(casp9b.south)+(4,0)$);
\draw[arr] (casp9b) -- (casp3c);
\draw[arr,dsh] ($(cycs.south)+(6,0)$) -- (1083,262) .. controls (1083,300) and (1000,340) .. ($(evade.north east)+(1,0)$);
\draw[arr,sl=0.55] (baxa.west) -- (1150,239.8) .. controls (1144.7,239.8) .. (1144.7,232) -- ($(mito.south west)+(30.5,0)$);
\draw[inh] ($(bcl2a.north west)+(3,0)$) -- ($(mito.south west)+(36,3)$);
\draw[inh] ($(pmaip1.west)+(0,6)$) -- ($(bcl2a.east)+(6,5)$);
\draw[arr,sl] (rad51.south) -- (cDNA1);
\draw[arr,sl] (msh2.south west) -- (cDNA2);
\draw[arr] (cDNA2) -- (baxa.north east);
\draw[arr] (cDNA2) -- (msh3.north);
\draw[arr] (cDNA2) -- (tgfbr2b.north);
\draw[arr,dsh] (tgfbr2b.east) -- (1298,239.8) .. controls (1304.5,239.8) .. (1304.5,232) -- (1304.5,55) .. controls (1304.5,47.7) .. (1311,47.7) -- (tgfbr1.south west);
\draw[arr] (tgfb1a) -- (tgfbr1);
\draw[arr,sl] (tgfbr2a) -- (smad2);
\draw[ln] (smad2) -- (smad4);
\coordinate (smE) at (1346.5,230);
\draw[arr,sl=0.35] (smad2.south) -- node[ee,pos=0.88]{e} (smE);
\draw[arr,dsh] (smE) -- (insens.north);
\coordinate (smL1) at (1351.3,173.6);
\coordinate (smL2) at (1351.6,197.3);
\draw[inh] (mecom1.south west) -- (smL1);
\draw[inh] (ctbp1.west) -- (smL2);
\draw[arr] (mecom2.south) -- (ctbp1.north);
\coordinate (caE) at (1455.3,214);
\draw[arr] (cCarc) -- node[ee,pos=0.87]{e} (caE);
\draw[arr,dsh] (caE) -- (gendam.north);
\coordinate (caL) at (1459.5,136);
\draw[inh,sl] (gstp1.south) -- (caL);
\draw[arr,dsh] (dnadmg.south) -- (tp53b.north);
\draw[arr,sl=0.3] (tp53b.south) -- node[ee,pos=0.55]{e} (cdkn1aB.north);
\draw[arr,sl=0.3] ($(tp53b.south)+(-2,0)$) -- node[ee,pos=0.68]{e} (bak1b.east);
\draw[arr,dsh] (baxa.south west) -- ($(geninst.north)+(-8,0)$);
\draw[inh] (mdm2b.north west) -- ($(tp53b.south)+(12,0)$);
\draw[inh,sl] (cdkn2aB.west) -- (mdm2b.east);
\coordinate (mitfE) at (1359,322.2);
\draw[arr] (mitf.east) -- node[ee,pos=0.4]{e} (mitfE);
\coordinate (mitfD) at (1368,322.2);
\draw[arr,dsh] (mitfD) -- (mitfD -| resist.west);
\draw[ln] (cT1) -- (cT2);
\coordinate (tmid) at (1357,382.8);
\draw[arr] (tert.south east) -- (tmid);
\coordinate (tD) at (1368,382.8);
\draw[arr,dsh] (tD) -- (tD -| immort.west);
\draw[arr,dsh] ($(gadd45g.north west)+(3,0)$) -- ($(geninst.south)+(-10,0)$);
\draw[arr,dsh] (ddb2.west) -- (evade.east);
\draw[arr,dsh] (ddb2.south west) .. controls (1000,420) and (960,450) .. ($(prolif.north east)+(-6,0)$);
\draw[inh,sl] (cdkn2aA.south east) -- ($(cdk4b.north)+(2,0)$);
\draw[inh] (cdkn1aB.south) -- (cdk4b.east);
\draw[inh] ($(cdkn2b.west)+(0,4)$) -- ($(ccnd1e.east)+(0,-2)$);
\draw[arr] (zbtb17.west) -- node[ee,pos=0.6]{e} (cdkn2b.east);
\draw[inh] (mycd.south west) -- (zbtb17.east);
\coordinate (myE) at (1283,459);
\draw[ln] (max.west) -- (myE);
\draw[arr] (myE) -- (cks1b.north east);
\draw[arr] (myE) -- (ccnd1e.south east);
\node[ee] at (myE) {e};
\draw[arr] (cks1b.south west) -- (skp1.north);
\draw[inh] ($(skp1.north)+(-6,0)$) -- ($(cdkn1bB.south)+(4,0)$);
\draw[inh] (cdkn1bB.west) -- (cdk2.east);
\draw[arr] (cdk4b.south west) -- (rb1.east);
\draw[arr] (cdk2.north west) -- (rb1.south east);
\draw[inh] (rb1.south) -- ($(rb1.south)+(0,5.8)$);
\draw[ln] (rb1.south) -- (e2f1a.north);
\coordinate (e2E) at (1039.3,480);
\draw[arr] (e2f1a.south) -- node[ee,pos=0.45]{e} (e2E);
\draw[arr,dsh] (e2E) -- (prolif.east);
\draw[arr,dsh] (ccnd1f.north west) -- ($(prolif.south east)+(0,-3)$);
\draw[arr,dsh] (ccna1.north west) -- ($(prolif.east)+(0,4)$);
\draw[arr] (esr1a.north east) -- node[ee,pos=0.45]{e} (mycf.west);
\draw[ln] (fosb.south) -- (cE2a);
\draw[arr] (esr1b.north) -- (cE2a);
\draw[ln] (cE2b) -- (esr1b.south);
\draw[arr] (cE2c) -- (cE2b);
\draw[arr] (jup.north) -- node[ee,pos=0.78]{e} (ppard.south);
\draw[ln] (lef1b.east) .. controls (1080,690.7) and (1087.7,689) .. (1087.7,683);
\coordinate (rjoin) at (876,621);
\draw[ln,sl=0.4] (rxra1.north) -- (854.7,631) .. controls (854.7,625) and (876,628) .. (rjoin);
\draw[ln,sl=0.4] (ppargb.north) -- (902,631) .. controls (902,625) and (876,628) .. (rjoin);
\coordinate (rtop) at (876,579);
\draw[arr] (rjoin) -- node[ee,pos=0.5]{e} (rtop);
\draw[arr,dsh] ($(rtop)+(0,-3)$) -- (rtop |- prolif.south);
\draw[arr] (cLig) -- (rxra1.south);
\draw[arr] (cLig) -- (ppargb.south);
\draw[ln] (pparga.north east) -- (rxra1.south west);
\draw[arr,sl=0.6] (cRet) -- (rxra2.south);
\coordinate (retTop) at (949.9,579);
\draw[arr,sl=0.3] (rarb.north) -- node[ee,pos=0.6]{e} (retTop);
\coordinate (eccna) at (1182.2,627.7);
\draw[ln] (rara.north) -- (eccna);
\draw[ln] (pml.north west) -- (eccna);
\draw[arr] (eccna) -- (ccna1.south);
\node[ee] at (eccna) {e};
\coordinate (erar) at (1231.9,602);
\draw[ln,sl=0.3] (pml.north) -- (erar);
\draw[ln] (rara.north) -- (erar);
\draw[arr] (erar) -- (erar |- rart.south);
\node[ee] at (erar) {e};
\coordinate (epu) at (1267.6,601.6);
\draw[ln,sl] (spi1a.north -| epu) -- (epu);
\draw[arr] (epu) -- (epu |- put.south);
\node[ee] at (epu) {e};
\coordinate (eq) at (1312.9,603);
\draw[arr,dsh] (spi1b.north) -- (eq);
\coordinate (ecb1) at (1363.1,602);
\draw[ln,sl] (cebpa1.north -| ecb1) -- (ecb1);
\draw[arr] (ecb1) -- (ecb1 |- cebt.south);
\node[ee] at (ecb1) {e};
\coordinate (ecb2) at (1409.7,602);
\draw[ln,sl] (cebpa2.north -| ecb2) -- (ecb2);
\draw[arr] (ecb2) -- (ecb2 |- cebt.south);
\node[ee] at (ecb2) {e};
\coordinate (eam1) at (1445.9,602);
\draw[ln,sl=0.75] (runx1a.north) -- (1440,637.5) .. controls (1445.9,636.5) .. (1445.9,630) -- (eam1);
\draw[arr] (eam1) -- (eam1 |- amlt.south);
\node[ee] at (eam1) {e};
\coordinate (eam2) at (1480.8,602);
\draw[ln,sl] (runx1b.north -| eam2) -- (eam2);
\draw[arr] (eam2) -- (eam2 |- amlt.south);
\node[ee] at (eam2) {e};
\draw[inh] (runx1a.north) -- ($(spi1a.south)+(6,4)$);
\draw[inh,dsh] (pml.north east) -- ($(spi1a.south)+(-6,4)$);
\draw[inh] (runx1a.north) -- ($(cebpa1.south)+(-3,4)$);
\coordinate (ej) at (1140.9,630.1);
\draw[ln] (rara.north) -- (ej);
\draw[ln] (pml.north) -- (ej);
\draw[ln] (runx1a.north) -- (ej);
\draw[arr] (ej) -- (1142,621) .. controls (1142,613) and (1127,613) .. (1127,621) -- (1127,702) .. controls (1127,709.4) .. (1119,709.4) -- (jup.east);
\node[ee] at (ej) {e};
\draw[arr,dsh] ($(rart.north)+(-5,0)$) -- ++(0,-12) .. controls +(0,-8) and +(-10,3) .. ($(block.south west)+(24,0)$);
\draw[arr,dsh] (csf2ra.north east) -- ($(block.south)+(4,0)$);
\draw[arr] (csf3rb.north east) -- (csf3rb.north east |- block.south);
\draw[arr,dsh] (csf1rb.north) -- ($(block.south east)+(-20,0)$);
% phenotype inputs
\draw[arr,dsh] (birc5.east) -- (715,283.9) .. controls (745,283.9) and (800,330) .. ($(evade.north)+(-24,0)$);
\draw[arr,dsh] (traf1.east) .. controls (760,366) and (790,370) .. ($(evade.north)+(-11,0)$);
\draw[arr,dsh] (bcl2b.south east) .. controls (700,395) and (780,395) .. ($(evade.west)+(0,-6)$);
\draw[arr,dsh] (bcl2l1d.east) .. controls (720,372) and (790,385) .. ($(evade.west)+(0,-9)$);
\draw[arr,dsh] (bcl2l1c.east) -- (700,512) .. controls (730,512) and (800,440) .. ($(evade.south west)+(2,0)$);
\draw[arr,dsh] (stk4.east) -- (690,548) .. controls (720,548) and (800,450) .. ($(evade.south west)+(6,0)$);
\draw[arr,dsh] (rps6kb1.east) -- ($(evade.west)+(0,-3)$);
\draw[arr,dsh] (casp9c.east) .. controls (700,408) and (760,398) .. ($(evade.west)+(0,1)$);
\draw[arr,dsh] (bcl2l1b.east) .. controls (720,425) and (780,402) .. ($(evade.west)+(0,4)$);
\draw[arr,dsh] (foxo1.east) .. controls (720,440) and (790,406) .. ($(evade.west)+(0,8)$);
\draw[arr,dsh] (tp53a.east) .. controls (750,454) and (800,415) .. ($(evade.south west)+(4,0)$);
\draw[arr,dsh] (gsto2.south) -- (986,290) .. controls (986,320) .. ($(evade.north east)+(-15,0)$);
\draw[arr,dsh] (mycc.east) .. controls (740,320) and (820,440) .. (prolif.north west);
\draw[arr,dsh] (ccnd1c.east) .. controls (740,330) and (830,450) .. ($(prolif.west)+(0,-8)$);
\draw[arr,dsh] (ccnd1d.east) -- (700,383) .. controls (730,383) and (820,460) .. ($(prolif.west)+(0,-4)$);
\draw[arr,dsh] (wnt16b.south east) .. controls (730,300) and (820,430) .. ($(prolif.north west)+(3,0)$);
\draw[arr,dsh] (cdkn1bA.east) .. controls (700,470) and (800,478) .. (prolif.west);
\draw[arr,dsh] (cdkn1aA.east) -- (780,488.8) -- ($(prolif.west)+(0,4)$);
\draw[arr,dsh] (ccnd1a.east) -- (700,562.8) .. controls (740,562.8) and (830,520) .. ($(prolif.south west)+(0,-3)$);
\draw[arr,dsh] (cdk4a.east) -- (775,637.7) .. controls (790,637.7) and (830,560) .. ($(prolif.south west)+(3,0)$);
\draw[arr,dsh] (txnrd2.south) -- (1007,290) .. controls (1007,330) and (960,400) .. ($(prolif.north)+(15,0)$);
\draw[arr,dsh] (flt4.south east) -- (angio.north west);
\draw[arr,dsh] (klk3.east) -- (730,239.5) .. controls (760,239.5) and (800,250) .. ($(angio.west)+(0,-3)$);
\draw[arr,dsh] (ptgs2.east) -- (720,329.1) .. controls (760,329.1) and (800,300) .. ($(angio.west)+(0,5)$);
\draw[arr,dsh] (vegfdb.east) -- (695,528.7) .. controls (710,528.7) and (715,520) .. (720,505) -- (angio.south west);
\draw[arr,dsh] (mmp1.east) .. controls (760,560) .. ($(angio.south west)+(5,0)$);
\end{pgfonlayer}
\end{tikzpicture}
\end{document}
